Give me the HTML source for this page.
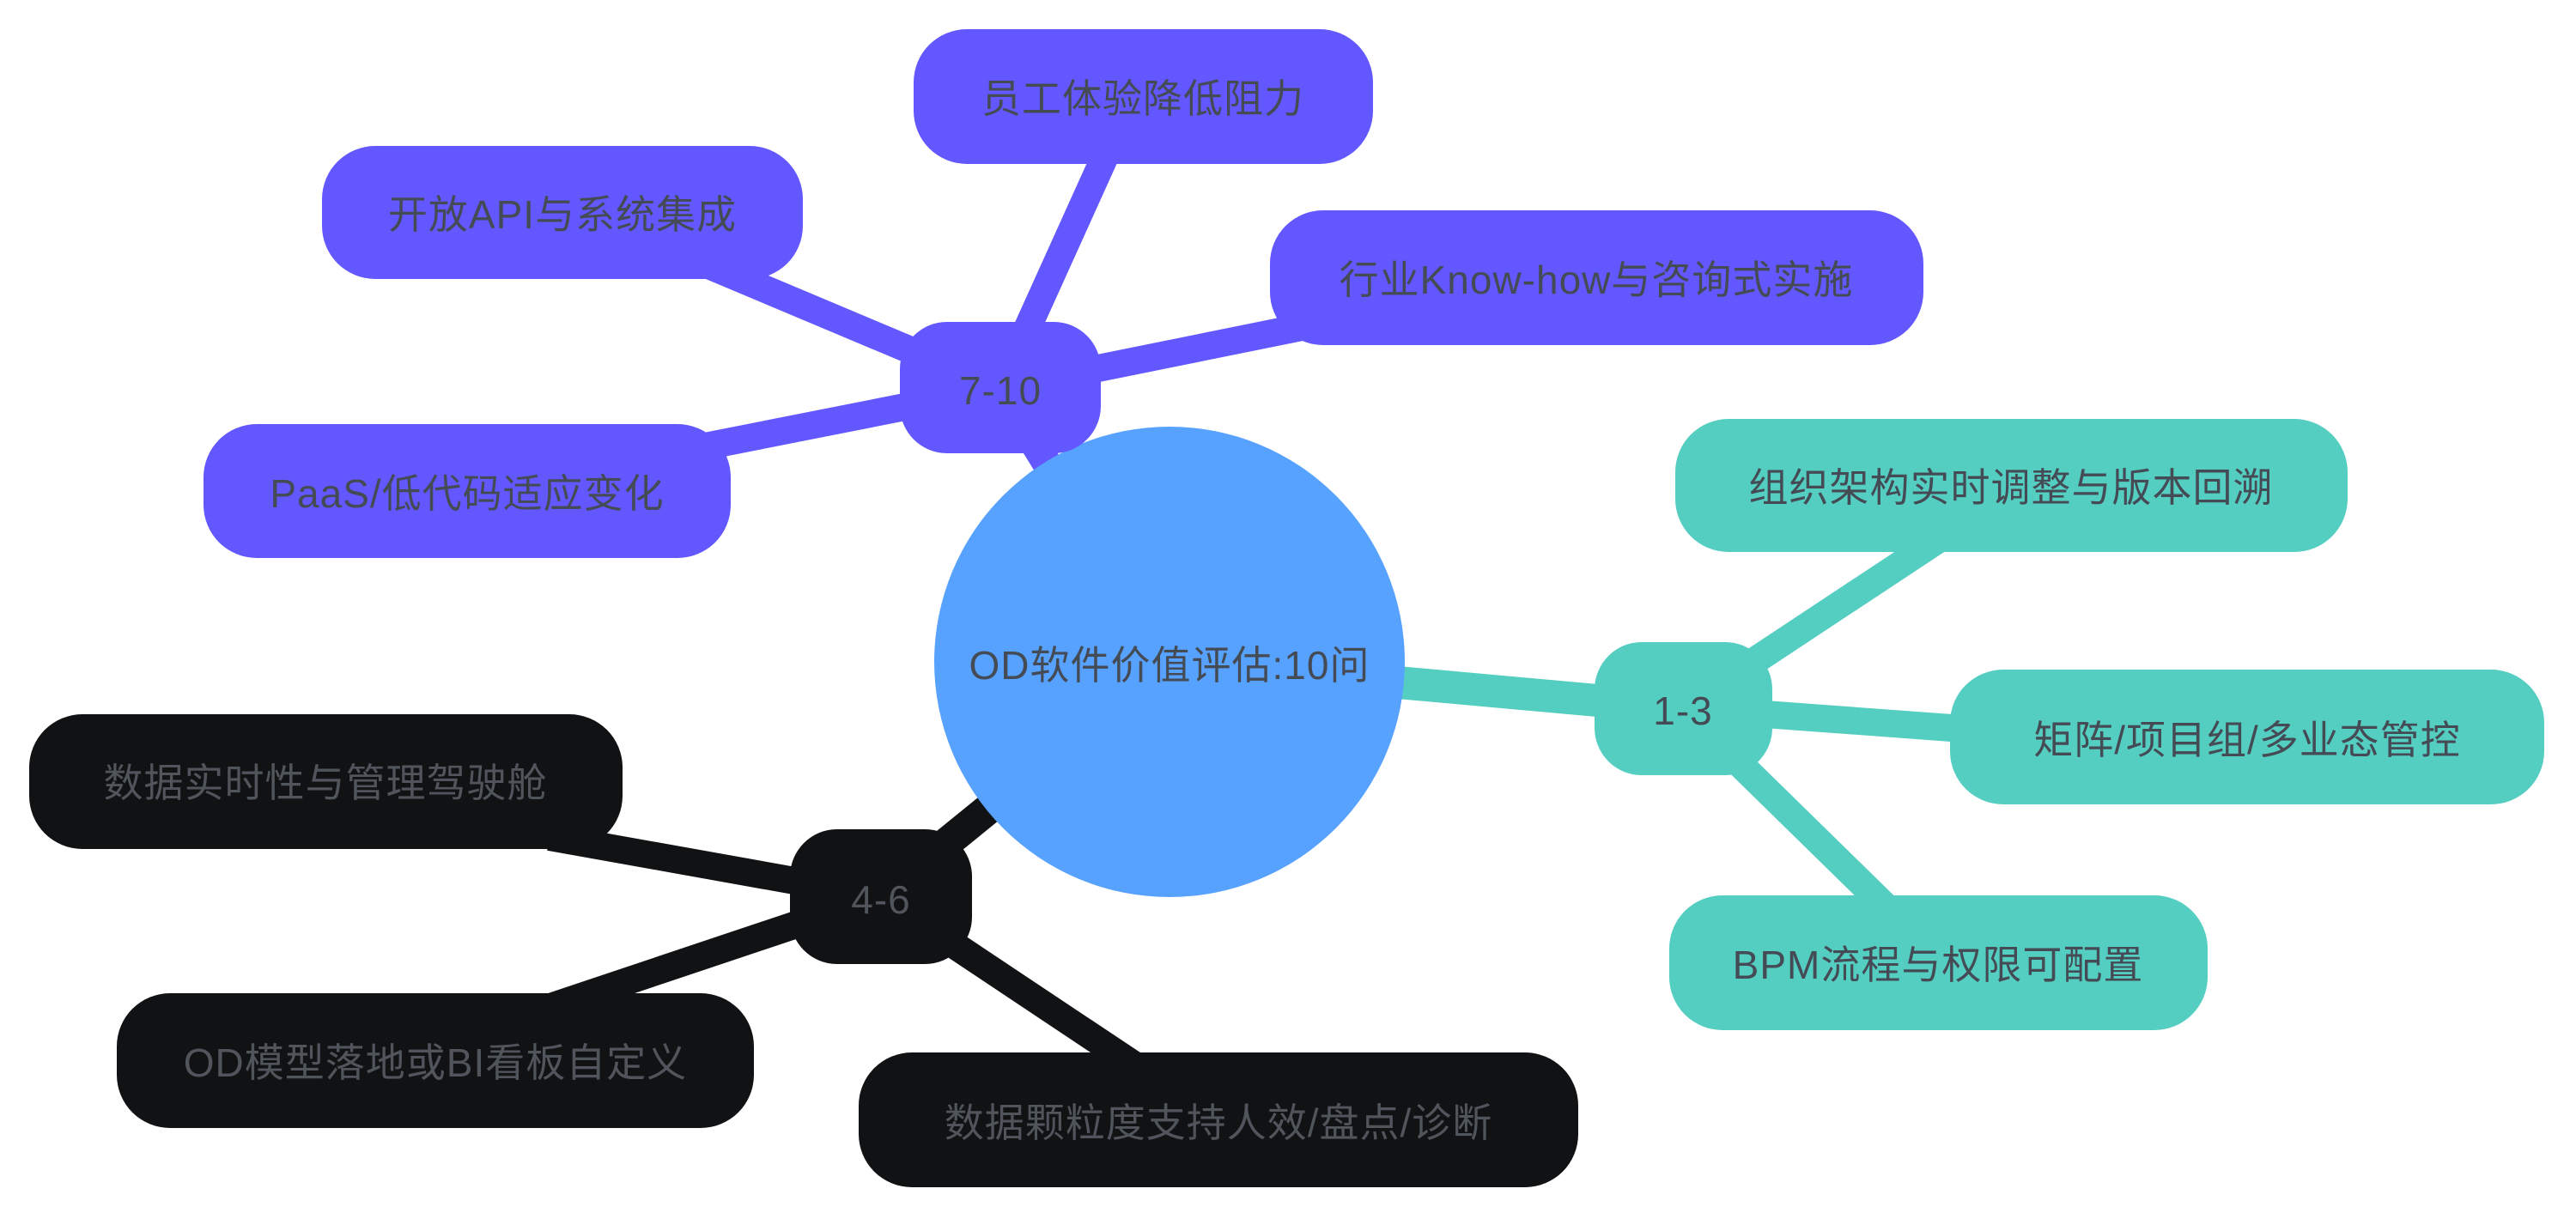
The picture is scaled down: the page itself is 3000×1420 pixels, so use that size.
<!DOCTYPE html>
<html><head><meta charset="utf-8"><style>
html,body{margin:0;padding:0;background:#fff;}
svg{display:block}
text{font-family:"Liberation Sans","Noto Sans CJK SC",sans-serif;font-size:46px;text-anchor:middle;dominant-baseline:central;letter-spacing:1px;}
</style></head><body>
<svg width="3000" height="1420" viewBox="0 0 3000 1420" xmlns="http://www.w3.org/2000/svg">
<g stroke-linecap="butt">
<!-- purple edges -->
<line x1="1362" y1="771" x2="1165" y2="452" stroke="#6357ff" stroke-width="34"/>
<line x1="1165" y1="452" x2="1315" y2="120" stroke="#6357ff" stroke-width="32"/>
<line x1="1165" y1="452" x2="780" y2="290" stroke="#6357ff" stroke-width="32"/>
<line x1="1165" y1="452" x2="1620" y2="360" stroke="#6357ff" stroke-width="32"/>
<line x1="1165" y1="452" x2="720" y2="540" stroke="#6357ff" stroke-width="32"/>
<!-- teal edges -->
<line x1="1362" y1="771" x2="1960" y2="825" stroke="#55cec2" stroke-width="38"/>
<line x1="1960" y1="825" x2="2270" y2="620" stroke="#55cec2" stroke-width="32"/>
<line x1="1960" y1="825" x2="2300" y2="850" stroke="#55cec2" stroke-width="32"/>
<line x1="1960" y1="825" x2="2200" y2="1060" stroke="#55cec2" stroke-width="32"/>
<!-- black edges -->
<line x1="1362" y1="771" x2="1026" y2="1044" stroke="#111214" stroke-width="36"/>
<line x1="1026" y1="1044" x2="640" y2="975" stroke="#111214" stroke-width="32"/>
<line x1="1026" y1="1044" x2="620" y2="1180" stroke="#111214" stroke-width="32"/>
<line x1="1026" y1="1044" x2="1320" y2="1240" stroke="#111214" stroke-width="32"/>
</g>
<!-- root -->
<circle cx="1362" cy="771" r="274" fill="#57a2ff"/>
<text x="1362" y="775" fill="#444b55">OD软件价值评估:10问</text>
<!-- purple -->
<g fill="#6357ff">
<rect x="1048" y="375" width="234" height="153" rx="55"/>
<rect x="1064" y="34" width="535" height="157" rx="62"/>
<rect x="375" y="170" width="560" height="155" rx="62"/>
<rect x="1479" y="245" width="761" height="157" rx="62"/>
<rect x="237" y="494" width="614" height="156" rx="62"/>
</g>
<g fill="#444b55">
<text x="1165" y="455">7-10</text>
<text x="1331" y="115">员工体验降低阻力</text>
<text x="655" y="250">开放API与系统集成</text>
<text x="1859" y="326">行业Know-how与咨询式实施</text>
<text x="544" y="575">PaaS/低代码适应变化</text>
</g>
<!-- teal -->
<g fill="#55cec2">
<rect x="1857" y="748" width="207" height="155" rx="55"/>
<rect x="1951" y="488" width="783" height="155" rx="62"/>
<rect x="2271" y="780" width="692" height="157" rx="62"/>
<rect x="1944" y="1043" width="627" height="157" rx="62"/>
</g>
<g fill="#444b55">
<text x="1960" y="828">1-3</text>
<text x="2342" y="568">组织架构实时调整与版本回溯</text>
<text x="2617" y="862">矩阵/项目组/多业态管控</text>
<text x="2257" y="1124">BPM流程与权限可配置</text>
</g>
<!-- black -->
<g fill="#111214">
<rect x="920" y="966" width="212" height="157" rx="55"/>
<rect x="34" y="832" width="691" height="157" rx="62"/>
<rect x="136" y="1157" width="742" height="157" rx="62"/>
<rect x="1000" y="1226" width="838" height="157" rx="62"/>
</g>
<g fill="#50555c">
<text x="1026" y="1048">4-6</text>
<text x="379" y="912">数据实时性与管理驾驶舱</text>
<text x="507" y="1238">OD模型落地或BI看板自定义</text>
<text x="1419" y="1308">数据颗粒度支持人效/盘点/诊断</text>
</g>
</svg>
</body></html>
